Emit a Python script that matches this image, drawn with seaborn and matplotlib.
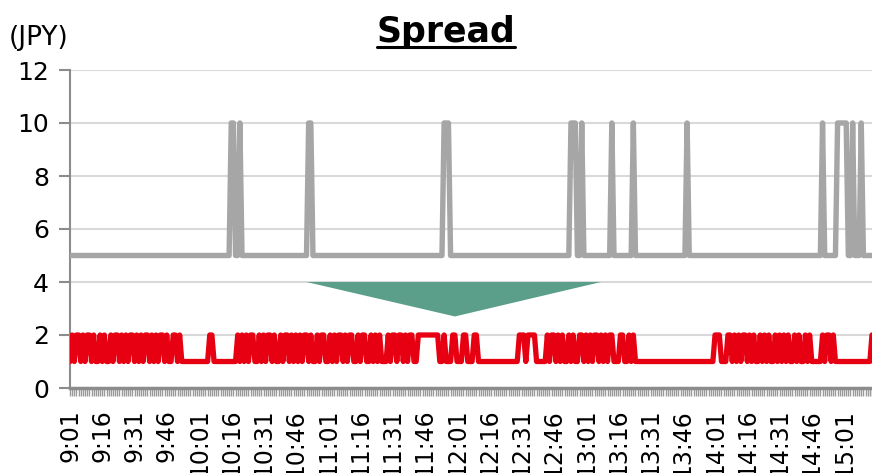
import numpy as np
import pandas as pd
import matplotlib
matplotlib.use("Agg")
import matplotlib.pyplot as plt
import seaborn as sns
from matplotlib.lines import Line2D

# Spread (JPY), one value per minute from 9:01, rows of 15 minutes
red_spread = [
    1, 2, 1, 2, 2, 1, 2, 1, 2, 2, 1, 2, 1, 1, 2,
    1, 2, 1, 1, 2, 1, 2, 2, 1, 2, 1, 2, 1, 2, 2,
    1, 2, 1, 2, 1, 2, 2, 1, 2, 1, 2, 1, 2, 2, 1,
    2, 1, 1, 2, 2, 1, 2, 1, 1, 1, 1, 1, 1, 1, 1,
    1, 1, 1, 1, 1, 2, 2, 1, 1, 1, 1, 1, 1, 1, 1,
    1, 1, 1, 2, 1, 2, 1, 2, 1, 2, 2, 1, 1, 2, 1,
    2, 1, 2, 2, 1, 2, 1, 1, 2, 1, 2, 2, 1, 2, 1,
    2, 1, 2, 1, 2, 2, 1, 2, 1, 1, 2, 1, 2, 2, 1,
    1, 2, 1, 2, 1, 2, 2, 1, 2, 1, 2, 2, 1, 1, 2,
    1, 2, 2, 1, 1, 2, 1, 2, 1, 2, 1, 1, 1, 2, 1,
    2, 2, 1, 2, 2, 1, 2, 1, 2, 2, 1, 1, 2, 2, 2,
    2, 2, 2, 2, 2, 2, 2, 1, 1, 2, 1, 1, 1, 2, 2,
    1, 1, 1, 2, 2, 1, 1, 1, 2, 2, 1, 1, 1, 1, 1,
    1, 1, 1, 1, 1, 1, 1, 1, 1, 1, 1, 1, 1, 1, 2,
    2, 2, 1, 2, 2, 2, 2, 1, 1, 1, 1, 1, 2, 1, 2,
    2, 1, 2, 1, 2, 1, 1, 2, 1, 2, 1, 1, 2, 2, 1,
    2, 1, 2, 1, 2, 2, 1, 2, 1, 2, 1, 2, 2, 1, 1,
    1, 2, 2, 1, 1, 2, 1, 2, 1, 1, 1, 1, 1, 1, 1,
    1, 1, 1, 1, 1, 1, 1, 1, 1, 1, 1, 1, 1, 1, 1,
    1, 1, 1, 1, 1, 1, 1, 1, 1, 1, 1, 1, 1, 1, 1,
    2, 2, 2, 1, 1, 1, 2, 2, 1, 2, 1, 2, 1, 2, 2,
    1, 2, 1, 2, 1, 1, 2, 1, 2, 1, 2, 1, 1, 2, 1,
    2, 1, 2, 1, 2, 1, 1, 2, 1, 2, 1, 1, 2, 1, 2,
    1, 1, 1, 1, 1, 2, 1, 2, 2, 1, 2, 1, 1, 1, 1,
    1, 1, 1, 1, 1, 1, 1, 1, 1, 1, 1, 1, 1, 2,
]

gray_spread = [
    5, 5, 5, 5, 5, 5, 5, 5, 5, 5, 5, 5, 5, 5, 5,
    5, 5, 5, 5, 5, 5, 5, 5, 5, 5, 5, 5, 5, 5, 5,
    5, 5, 5, 5, 5, 5, 5, 5, 5, 5, 5, 5, 5, 5, 5,
    5, 5, 5, 5, 5, 5, 5, 5, 5, 5, 5, 5, 5, 5, 5,
    5, 5, 5, 5, 5, 5, 5, 5, 5, 5, 5, 5, 5, 5, 5,
    10, 10, 5, 5, 10, 5, 5, 5, 5, 5, 5, 5, 5, 5, 5,
    5, 5, 5, 5, 5, 5, 5, 5, 5, 5, 5, 5, 5, 5, 5,
    5, 5, 5, 5, 5, 5, 10, 10, 5, 5, 5, 5, 5, 5, 5,
    5, 5, 5, 5, 5, 5, 5, 5, 5, 5, 5, 5, 5, 5, 5,
    5, 5, 5, 5, 5, 5, 5, 5, 5, 5, 5, 5, 5, 5, 5,
    5, 5, 5, 5, 5, 5, 5, 5, 5, 5, 5, 5, 5, 5, 5,
    5, 5, 5, 5, 5, 5, 5, 5, 5, 10, 10, 10, 5, 5, 5,
    5, 5, 5, 5, 5, 5, 5, 5, 5, 5, 5, 5, 5, 5, 5,
    5, 5, 5, 5, 5, 5, 5, 5, 5, 5, 5, 5, 5, 5, 5,
    5, 5, 5, 5, 5, 5, 5, 5, 5, 5, 5, 5, 5, 5, 5,
    5, 5, 5, 5, 5, 5, 5, 5, 10, 10, 10, 5, 5, 10, 5,
    5, 5, 5, 5, 5, 5, 5, 5, 5, 5, 5, 5, 10, 5, 5,
    5, 5, 5, 5, 5, 5, 5, 10, 5, 5, 5, 5, 5, 5, 5,
    5, 5, 5, 5, 5, 5, 5, 5, 5, 5, 5, 5, 5, 5, 5,
    5, 5, 10, 5, 5, 5, 5, 5, 5, 5, 5, 5, 5, 5, 5,
    5, 5, 5, 5, 5, 5, 5, 5, 5, 5, 5, 5, 5, 5, 5,
    5, 5, 5, 5, 5, 5, 5, 5, 5, 5, 5, 5, 5, 5, 5,
    5, 5, 5, 5, 5, 5, 5, 5, 5, 5, 5, 5, 5, 5, 5,
    5, 5, 5, 5, 5, 10, 5, 5, 5, 5, 5, 5, 10, 10, 10,
    10, 10, 5, 5, 10, 5, 5, 5, 10, 5, 5, 5, 5, 5,
]

start_time = "2024-01-01 09:01"
label_every = 15
y_ticks = [0, 2, 4, 6, 8, 10, 12]
arrow_left, arrow_right, arrow_tip = "10:51", "13:08", "12:00"
arrow_top, arrow_bottom = 4.0, 2.7

times = pd.date_range(start_time, periods=len(red_spread), freq="min")
labels = [f"{t.hour}:{t.minute:02d}" for t in times]
df = pd.DataFrame({
    "pos": np.arange(len(red_spread)),
    "time": labels,
    "gray": gray_spread,
    "red": red_spread,
})

sns.set_theme(style="white")
plt.rcParams["font.family"] = ["DejaVu Sans"]
plt.rcParams["text.color"] = "black"
plt.rcParams["xtick.color"] = "black"
plt.rcParams["ytick.color"] = "black"

W, H = 872, 473
fig = plt.figure(figsize=(W / 100, H / 100), dpi=100)
fig.patch.set_facecolor("white")
ax = fig.add_axes([70 / W, 85 / H, 802 / W, 318 / H])

sns.lineplot(data=df, x="pos", y="gray", color="#A6A6A6", lw=3.9, ax=ax,
             zorder=3)
sns.lineplot(data=df, x="pos", y="red", color="#E60012", lw=3.8, ax=ax,
             zorder=4)

# green downward triangle
tx = [labels.index(arrow_left), labels.index(arrow_right), labels.index(arrow_tip)]
ty = [arrow_top, arrow_top, arrow_bottom]
ax.fill(tx, ty, color="#5B9E89", lw=0, zorder=5)

ax.set_xlim(0, len(red_spread) - 1)
ax.set_ylim(0, 12)
ax.set_yticks(y_ticks)
ax.set_yticklabels([str(v) for v in y_ticks], fontsize=18, color="black")
ax.yaxis.grid(True, color="#D9D9D9", lw=1.5)
ax.xaxis.grid(False)
ax.set_axisbelow(True)

major = df["pos"][::label_every]
ax.set_xticks(major)
ax.set_xticklabels(df["time"][::label_every], rotation=90, fontsize=17,
                   color="black")
ax.set_xticks(df["pos"], minor=True)
ax.tick_params(axis="x", which="both", direction="out", length=6, width=1,
               color="#9A9A9A", pad=9, bottom=True)
ax.tick_params(axis="y", direction="out", length=8, width=1.5,
               color="#8C8C8C", pad=7, left=True)
ax.set_xlabel("")
ax.set_ylabel("")

for s in ["top", "right"]:
    ax.spines[s].set_visible(False)
ax.spines["left"].set_color("#8C8C8C")
ax.spines["left"].set_linewidth(1.5)
ax.spines["bottom"].set_color("#8C8C8C")
ax.spines["bottom"].set_linewidth(2.5)

fig.text(9 / W, 1 - 38 / H, "(JPY)", fontsize=19, ha="left", va="center",
         color="black")
title = fig.text(446 / W, 1 - 42 / H, "Spread", fontsize=25, weight="bold",
                 ha="center", va="baseline", color="black")

fig.canvas.draw()
bb = title.get_window_extent(fig.canvas.get_renderer())
x0, x1 = bb.x0 / W, bb.x1 / W
uy = (H - 47) / H
fig.add_artist(Line2D([x0, x1], [uy, uy], color="black", lw=2.2,
                      transform=fig.transFigure))

fig.savefig("out.png", dpi=100, facecolor="white")
